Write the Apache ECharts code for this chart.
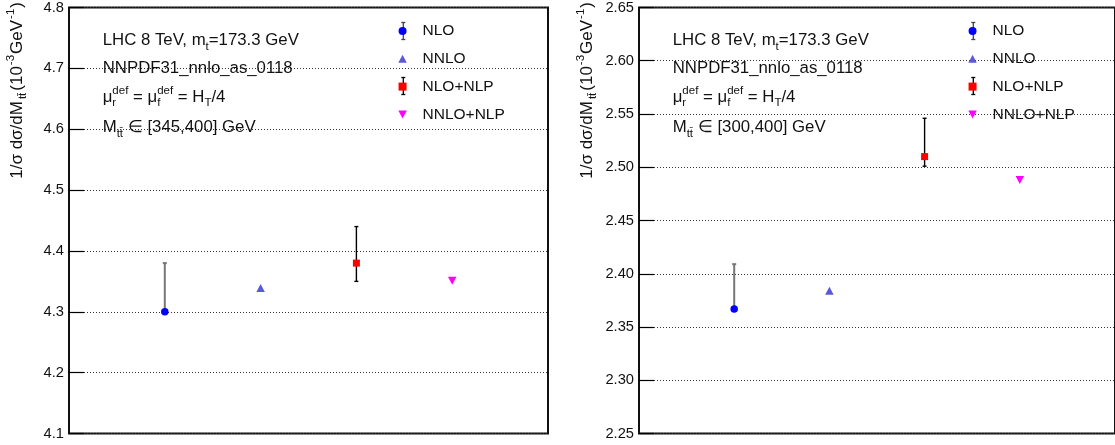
<!DOCTYPE html>
<html>
<head>
<meta charset="utf-8">
<script src="https://cdn.jsdelivr.net/npm/echarts@6/dist/echarts.min.js"></script>
<style>
html,body{margin:0;padding:0;background:#fff;}
#chart{width:1115px;height:445px;}
</style>
</head>
<body>
<div id="chart"></div>
<script>
// ---- data ----
const categories = ['NLO', 'NNLO', 'NLO+NLP', 'NNLO+NLP'];
const xPositions = [1, 2, 3, 4];
// left panel: M_tt in [345,400] GeV
const leftValues = [4.300, 4.339, 4.380, 4.351];
const leftErrNLO = [4.300, 4.380];
const leftErrNLONLP = [4.350, 4.440];
const leftTickLabels = ['4.1', '4.2', '4.3', '4.4', '4.5', '4.6', '4.7', '4.8'];
// right panel: M_tt in [300,400] GeV
const rightValues = [2.367, 2.384, 2.510, 2.488];
const rightErrNLO = [2.367, 2.409];
const rightErrNLONLP = [2.501, 2.546];
const rightTickLabels = ['2.25', '2.30', '2.35', '2.40', '2.45', '2.50', '2.55', '2.60', '2.65'];
const massRanges = ['[345,400]', '[300,400]'];

// ---- styles ----
const FONT = 'Liberation Sans, Arial, Helvetica, sans-serif';
const markerStyles = [
  { symbol: 'circle', size: 7.5, color: '#0000ff', icon: 'circle' },
  { symbol: 'triangle', size: [8.5, 8], color: '#5a5ad9', icon: 'path://M4.25,0L8.5,8L0,8Z' },
  { symbol: 'rect', size: 7, color: '#ff0000', icon: 'path://M0,0L7,0L7,7L0,7Z' },
  { symbol: 'path://M0,0L9,0L4.5,8Z', size: [8.5, 8], color: '#ff00ff', icon: 'path://M0,0L8.5,0L4.25,8Z' }
];
const errStyles = {
  NLO: { stroke: '#777777', lineWidth: 2 },
  NLONLP: { stroke: '#000000', lineWidth: 1.4 }
};
const panels = [
  { left: 69, values: leftValues, errNLO: leftErrNLO, errNLONLP: leftErrNLONLP, ticks: leftTickLabels, min: 4.1, max: 4.8, step: 0.1 },
  { left: 639, values: rightValues, errNLO: rightErrNLO, errNLONLP: rightErrNLONLP, ticks: rightTickLabels, min: 2.25, max: 2.65, step: 0.05 }
];
const GRID_TOP = 5.5, GRID_H = 428, GRID_W = 479;

function errRender(style) {
  return function (params, api) {
    const x = api.value(0), lo = api.value(1), hi = api.value(2);
    const p1 = api.coord([x, lo]);
    const p2 = api.coord([x, hi]);
    const c = 2;
    const st = { stroke: style.stroke, lineWidth: style.lineWidth };
    return {
      type: 'group',
      children: [
        { type: 'line', shape: { x1: p1[0], y1: p1[1], x2: p2[0], y2: p2[1] }, style: st },
        { type: 'line', shape: { x1: p1[0] - c, y1: p1[1], x2: p1[0] + c, y2: p1[1] }, style: st },
        { type: 'line', shape: { x1: p2[0] - c, y1: p2[1], x2: p2[0] + c, y2: p2[1] }, style: st }
      ]
    };
  };
}

const grids = [], xAxes = [], yAxes = [], series = [], legends = [], graphics = [];

const richBase = {
  m: { fontSize: 16.8, fontFamily: FONT, fill: '#111' },
  sub: { fontSize: 11.5, fontFamily: FONT, fill: '#111', verticalAlign: 'bottom' },
  sub0: { fontSize: 11.5, fontFamily: FONT, fill: '#111', verticalAlign: 'bottom', width: 0 },
  sup: { fontSize: 11.5, fontFamily: FONT, fill: '#111', verticalAlign: 'top' }
};
const richTitle = {
  m: { fontSize: 17, fontFamily: FONT, fill: '#111' },
  sub: { fontSize: 11.5, fontFamily: FONT, fill: '#111', verticalAlign: 'bottom', padding: [0, 2, 0, 2] },
  sup: { fontSize: 11.5, fontFamily: FONT, fill: '#111', verticalAlign: 'top', padding: [0, 1, 0, 1] }
};

panels.forEach((p, gi) => {
  grids.push({ left: p.left, top: GRID_TOP, width: GRID_W, height: GRID_H, show: true, borderColor: '#111', borderWidth: 2, backgroundColor: 'transparent' });
  xAxes.push({ gridIndex: gi, type: 'value', min: 0, max: 5, show: false });
  yAxes.push({
    gridIndex: gi, type: 'value', min: p.min, max: p.max, interval: p.step,
    axisLine: { show: false },
    axisTick: { show: true, inside: true, length: 15, lineStyle: { color: '#000', width: 1.2 } },
    splitLine: { show: true, lineStyle: { type: [1, 2], color: '#333', width: 1 } },
    axisLabel: {
      margin: 5, fontSize: 14.7, color: '#111', fontFamily: FONT, showMinLabel: true, showMaxLabel: true,
      formatter: (v) => p.ticks[Math.round((v - p.min) / p.step)]
    }
  });
  series.push({
    name: 'NLO err ' + gi, type: 'custom', xAxisIndex: gi, yAxisIndex: gi, z: 2,
    renderItem: errRender(errStyles.NLO), encode: { x: 0, y: [1, 2] },
    data: [[xPositions[0], p.errNLO[0], p.errNLO[1]]]
  });
  series.push({
    name: 'NLO+NLP err ' + gi, type: 'custom', xAxisIndex: gi, yAxisIndex: gi, z: 2,
    renderItem: errRender(errStyles.NLONLP), encode: { x: 0, y: [1, 2] },
    data: [[xPositions[2], p.errNLONLP[0], p.errNLONLP[1]]]
  });
  categories.forEach((name, i) => {
    const ms = markerStyles[i];
    series.push({
      name: name, type: 'scatter', xAxisIndex: gi, yAxisIndex: gi, z: 3,
      symbol: ms.symbol, symbolSize: ms.size,
      itemStyle: { color: ms.color, opacity: 1 },
      emphasis: { disabled: true },
      data: [[xPositions[i], p.values[i]]]
    });
  });
  const legLeft = p.left + 329.3;
  legends.push({
    orient: 'vertical', left: legLeft, top: 22, padding: 0,
    itemWidth: 30, itemHeight: 8, itemGap: 9.8, selectedMode: false, symbolKeepAspect: true,
    textStyle: { fontSize: 15.5, lineHeight: 18, color: '#111', fontFamily: FONT },
    data: categories.map((n, i) => ({ name: n, icon: markerStyles[i].icon }))
  });
  // error-bar glyphs in legend (rows 1 and 3)
  const lx = p.left + 334.3;
  [[22.5, 39.5, '#444'], [77.5, 94.5, '#000']].forEach(([y1, y2, col]) => {
    graphics.push({ type: 'line', z: 1, shape: { x1: lx, y1: y1, x2: lx, y2: y2 }, style: { stroke: col, lineWidth: 1.3 } });
    graphics.push({ type: 'line', z: 1, shape: { x1: lx - 2, y1: y1, x2: lx + 2, y2: y1 }, style: { stroke: col, lineWidth: 1.3 } });
    graphics.push({ type: 'line', z: 1, shape: { x1: lx - 2, y1: y2, x2: lx + 2, y2: y2 }, style: { stroke: col, lineWidth: 1.3 } });
  });
  // annotations
  const tx = p.left + 33.7;
  const lines = [
    '{m|LHC 8 TeV, m}{sub|t}{m|=173.3 GeV}',
    '{m|NNPDF31_nnlo_as_0118}',
    '{m|μ}{sub0|r}{sup|def}{m| = μ}{sub0|f}{sup|def}{m| = H}{sub|T}{m|/4}',
    '{m|M}{sub|tt\u0304}{m| \u2208 ' + massRanges[gi] + ' GeV}'
  ];
  const ys = [40.7, 68.2, 97.0, 127.7];
  lines.forEach((t, k) => {
    graphics.push({
      type: 'text', x: tx, y: ys[k], z: 5,
      style: { text: t, rich: richBase, align: 'left', verticalAlign: 'middle', lineHeight: 24, fill: '#111', fontSize: 16.8, fontFamily: FONT }
    });
  });
  // y-axis title
  graphics.push({
    type: 'text', x: p.left - 52, y: 2, rotation: Math.PI / 2, z: 5,
    style: {
      text: '{m|1/σ dσ/dM}{sub|tt\u0304}{m|(10}{sup|-3}{m|GeV}{sup|-1}{m|)}',
      rich: richTitle, align: 'right', verticalAlign: 'middle', lineHeight: 24, fill: '#111', fontSize: 17, fontFamily: FONT
    }
  });
});

const chart = echarts.init(document.getElementById('chart'), null, { renderer: 'canvas' });
chart.setOption({
  animation: false,
  backgroundColor: '#fff',
  grid: grids,
  xAxis: xAxes,
  yAxis: yAxes,
  legend: legends,
  series: series,
  graphic: graphics
});
</script>
</body>
</html>
